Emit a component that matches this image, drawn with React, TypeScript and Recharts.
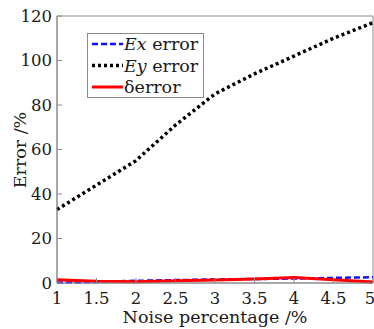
import { LineChart, Line, XAxis, YAxis, Label, ReferenceArea } from 'recharts';

const noise = [1, 1.5, 2, 2.5, 3, 3.5, 4, 4.5, 5];
const exError = [0.2, 0.5, 1, 1.3, 1.6, 1.8, 2, 2.3, 2.6];
const eyError = [33, 44, 55, 71, 85, 94, 102, 110, 117];
const deltaError = [1.5, 0.8, 0.6, 1, 1.4, 1.8, 2.5, 1.5, 0.5];

const xTicks = [1, 1.5, 2, 2.5, 3, 3.5, 4, 4.5, 5];
const yTicks = [0, 20, 40, 60, 80, 100, 120];

const FONT = '"DejaVu Serif", serif';
const AXIS = '#8c8c8c';
const INK = '#1a1a1a';

const data = noise.map((n, i) => ({
  noise: n,
  ex: exError[i],
  ey: eyError[i],
  delta: deltaError[i],
}));

function LegendBox() {
  const rows = [
    { color: '#1010ff', dash: '6 3', width: 2.5, italic: 'Ex', rest: ' error' },
    { color: '#000', dash: '3 3', width: 3.5, italic: 'Ey', rest: ' error' },
    { color: '#ff0000', dash: undefined, width: 3, italic: '', rest: 'δerror' },
  ];
  return (
    <svg width={117} height={65} style={{ position: 'absolute', left: 87, top: 33 }}>
      <rect x={0.5} y={0.5} width={116} height={64} fill="#fff" stroke={AXIS} />
      {rows.map((r, i) => (
        <g key={i}>
          <line x1={5} x2={36} y1={11 + i * 21.5} y2={11 + i * 21.5} stroke={r.color} strokeWidth={r.width} strokeDasharray={r.dash} />
          <text x={37} y={17 + i * 21.5} fontFamily={FONT} fontSize={17.5} fill={INK}>
            {r.italic && <tspan fontStyle="italic">{r.italic}</tspan>}
            <tspan>{r.rest}</tspan>
          </text>
        </g>
      ))}
    </svg>
  );
}

export default function App() {
  return (
    <div style={{ position: 'absolute', left: 0, top: 0, width: 374, height: 329, background: '#fff' }}>
      <LineChart width={374} height={329} data={data} margin={{ top: 16, right: 1, left: 0, bottom: 0 }}>
        <XAxis
          dataKey="noise"
          type="number"
          domain={[1, 5]}
          ticks={xTicks}
          height={46}
          stroke={AXIS}
          tickSize={-5}
          tickMargin={14}
          tick={{ fill: INK, fontFamily: FONT, fontSize: 16.5 }}
        >
          <Label content={() => (
            <text x={215} y={323} textAnchor="middle" fontFamily={FONT} fontSize={17.5} fill={INK}>Noise percentage /%</text>
          )} />
        </XAxis>
        <XAxis xAxisId="top" dataKey="noise" type="number" domain={[1, 5]} ticks={xTicks} orientation="top" height={0} stroke={AXIS} tickSize={-5} tick={false} />
        <YAxis
          type="number"
          domain={[0, 120]}
          ticks={yTicks}
          width={57}
          stroke={AXIS}
          tickSize={-5}
          tickMargin={10}
          tick={{ fill: INK, fontFamily: FONT, fontSize: 16.5 }}
        >
          <Label content={() => (
            <text x={20} y={150} transform="rotate(-90 20 150)" textAnchor="middle" dominantBaseline="central" fontFamily={FONT} fontSize={17.5} fill={INK}>Error /%</text>
          )} />
        </YAxis>
        <YAxis yAxisId="right" orientation="right" type="number" domain={[0, 120]} ticks={yTicks} width={0} stroke={AXIS} tickSize={-5} tick={false} />
        <ReferenceArea x1={1} x2={5} y1={0} y2={120} fill="none" stroke={AXIS} strokeWidth={1} ifOverflow="visible" />
        <Line dataKey="ey" stroke="#000" strokeWidth={3.5} strokeDasharray="3 3" dot={false} isAnimationActive={false} />
        <Line dataKey="ex" stroke="#1010ff" strokeWidth={2.5} strokeDasharray="6 3" dot={false} isAnimationActive={false} />
        <Line dataKey="delta" stroke="#ff0000" strokeWidth={3} dot={false} isAnimationActive={false} />
      </LineChart>
      <LegendBox />
    </div>
  );
}
